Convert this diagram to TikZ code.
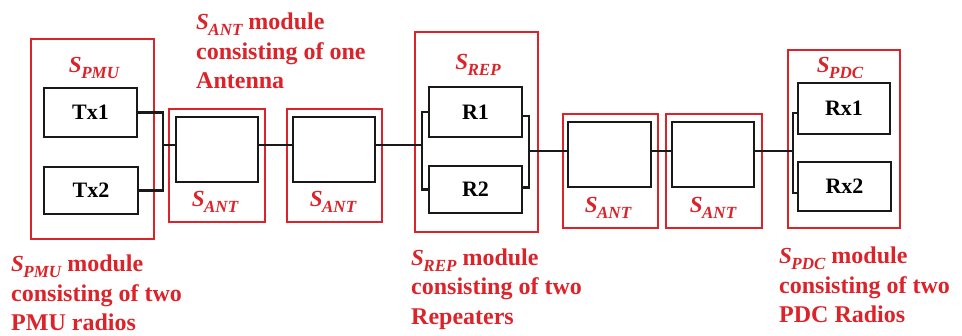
\documentclass[tikz,border=0pt]{standalone}
\usepackage{fontspec}
\setmainfont{Liberation Serif}
\definecolor{rd}{RGB}{220,35,42}
\newcommand{\Sx}[1]{{\bfseries\itshape\fontsize{23}{27}\selectfont S\kern-0.5pt\raisebox{-6pt}{\fontsize{17}{20}\selectfont #1}}}
\begin{document}
\begin{tikzpicture}[x=1pt,y=-1pt,
  redbox/.style={draw=rd, line width=1.9pt, inner sep=0pt},
  blkbox/.style={draw=black!90, line width=2.6pt, inner sep=0pt, font=\fontsize{22}{26}\selectfont\bfseries},
  conn/.style={draw=black!90, line width=2.4pt},
  lbl/.style={text=rd, inner sep=0pt},
  ann/.style={text=rd, inner sep=0pt, align=left, anchor=west, font=\fontsize{24}{29.5}\selectfont\bfseries}]
\useasboundingbox (0,0) rectangle (962,336);
% red module boxes
\node[redbox, minimum width=123pt, minimum height=200pt] (pmu) at (92.5,139) {};
\node[redbox, minimum width=96pt, minimum height=113pt] (ant1) at (217,165.5) {};
\node[redbox, minimum width=95pt, minimum height=113pt] (ant2) at (334.5,165.5) {};
\node[redbox, minimum width=123pt, minimum height=200pt] (rep) at (476.5,132) {};
\node[redbox, minimum width=95pt, minimum height=114pt] (ant3) at (610.5,171) {};
\node[redbox, minimum width=96pt, minimum height=114pt] (ant4) at (714,171) {};
\node[redbox, minimum width=112pt, minimum height=178pt] (pdc) at (844,139) {};
% inner black boxes
\node[blkbox, minimum width=93pt, minimum height=49pt] (tx1) at (90.5,112.5) {Tx1};
\node[blkbox, minimum width=94pt, minimum height=47pt] (tx2) at (91,190.5) {Tx2};
\node[blkbox, minimum width=82pt, minimum height=65pt] (ant1in) at (217,149.5) {};
\node[blkbox, minimum width=82pt, minimum height=65pt] (ant2in) at (334,149.5) {};
\node[blkbox, minimum width=93pt, minimum height=50pt] (r1) at (475.5,112) {R1};
\node[blkbox, minimum width=93pt, minimum height=47pt] (r2) at (475.5,189.5) {R2};
\node[blkbox, minimum width=83pt, minimum height=65pt] (ant3in) at (609.5,154.5) {};
\node[blkbox, minimum width=82pt, minimum height=65pt] (ant4in) at (713,154.5) {};
\node[blkbox, minimum width=92pt, minimum height=51pt] (rx1) at (844,108.5) {Rx1};
\node[blkbox, minimum width=93pt, minimum height=49pt] (rx2) at (844.5,186.5) {Rx2};
% module labels
\node[lbl] (lpmu) at (94,68) {\Sx{PMU}};
\node[lbl] (lant1) at (215,202) {\Sx{ANT}};
\node[lbl] (lant2) at (333,202) {\Sx{ANT}};
\node[lbl] (lrep) at (478,65) {\Sx{REP}};
\node[lbl] (lant3) at (608,208) {\Sx{ANT}};
\node[lbl] (lant4) at (713,208) {\Sx{ANT}};
\node[lbl] (lpdc) at (840,68) {\Sx{PDC}};
% connectors
\coordinate (pbus) at (163,145);
\coordinate (repL) at (422,145);
\coordinate (repR) at (529,151);
\coordinate (pdcbus) at (793,151);
\draw[conn] (tx1.east) -| (pbus) |- (tx2.east);
\draw[conn] (pbus) -- (pbus -| ant1in.west);
\draw[conn] (ant1in.east |- pbus) -- (ant2in.west |- pbus);
\draw[conn] (ant2in.east |- pbus) -- (repL);
\draw[conn] (r1.west) -| (repL) |- (r2.west);
\draw[conn] ([yshift=-4pt]r1.east) -| (repR) |- ([yshift=2pt]r2.east);
\draw[conn] (repR) -- (repR -| ant3in.west);
\draw[conn] (ant3in.east |- repR) -- (ant4in.west |- repR);
\draw[conn] (ant4in.east |- repR) -- (pdcbus);
\draw[conn] ([yshift=-4.5pt]rx1.west) -| (pdcbus) |- ([yshift=-6.5pt]rx2.west);
% annotations
\node[ann] (aant) at (196,51) {\Sx{ANT} module\\consisting of one\\Antenna};
\node[ann] (apmu) at (11,293) {\Sx{PMU} module\\consisting of two\\PMU radios};
\node[ann] (arep) at (411,289) {\Sx{REP} module\\consisting of two\\Repeaters};
\node[ann] (apdc) at (779,285) {\Sx{PDC} module\\consisting of two\\PDC Radios};
\end{tikzpicture}
\end{document}
